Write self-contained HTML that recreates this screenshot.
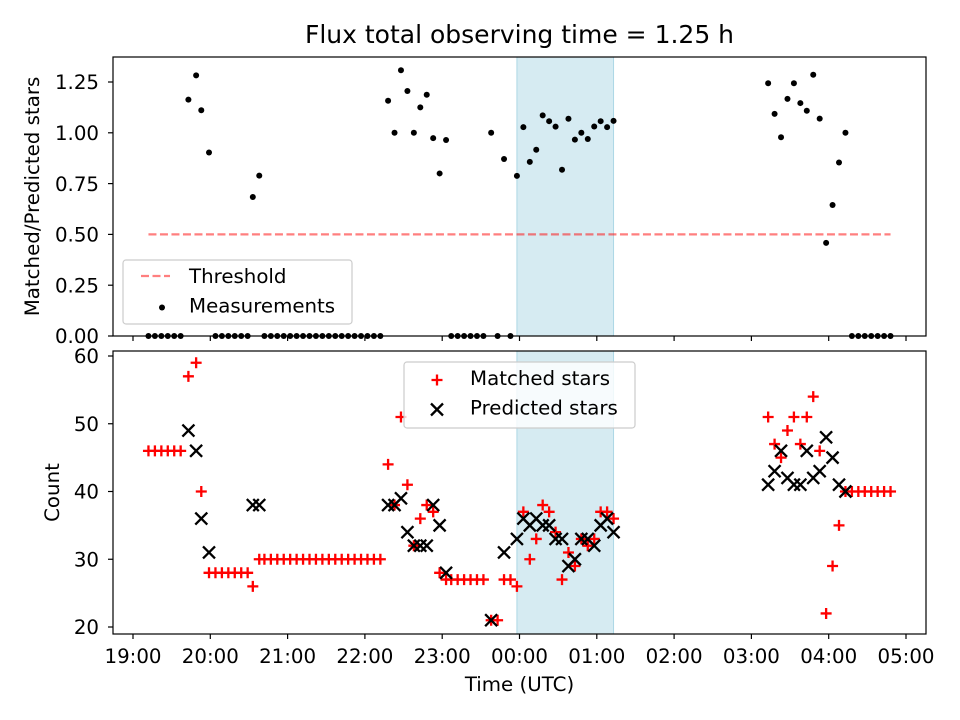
<!DOCTYPE html>
<html><head><meta charset="utf-8">
<style>
html,body{margin:0;padding:0;background:#fff;}
svg{display:block;font-family:"DejaVu Sans","Liberation Sans",sans-serif;}
</style></head>
<body>
<svg id="chart" width="960" height="720" viewBox="0 0 960 720" xmlns="http://www.w3.org/2000/svg">
<rect width="960" height="720" fill="#fff"/>
<text x="519.5" y="43" font-size="25" text-anchor="middle">Flux total observing time = 1.25 h</text>
<g id="topPanel"></g>
<g id="botPanel"></g>
</svg>
<script>
// minutes after 19:00 UTC
const times = [12,17,22,27,32,37,43,49,53,59,64,69,74,79,84,89,93,98,
102,107,112,117,122,127,132,137,142,147,152,157,162,167,172,177,182,187,192,
198,203,208,213,218,223,228,233,238,243,247,252,257,262,267,272,
278,283,288,293,298,303,308,313,318,323,328,333,338,343,348,353,358,363,368,373,
493,498,503,508,513,518,523,528,533,538,543,548,553,558,563,568,573,578,583,588];
const matched = [46,46,46,46,46,46,57,59,40,28,28,28,28,28,28,28,26,30,
30,30,30,30,30,30,30,30,30,30,30,30,30,30,30,30,30,30,30,
44,38,51,41,32,36,38,37,28,27,27,27,27,27,27,27,
21,21,27,27,26,37,30,33,38,37,34,27,31,29,33,32,33,37,37,36,
51,47,45,49,51,47,51,54,46,22,29,35,40,40,40,40,40,40,40,40];
const predicted = [null,null,null,null,null,null,49,46,36,31,null,null,null,null,null,null,38,38,
null,null,null,null,null,null,null,null,null,null,null,null,null,null,null,null,null,null,null,
38,38,39,34,32,32,32,38,35,28,null,null,null,null,null,null,
21,null,31,null,33,36,35,36,35,35,33,33,29,30,33,33,32,35,36,34,
41,43,46,42,41,41,46,42,43,48,45,41,40,null,null,null,null,null,null,null];
const xTickLabels = ["19:00","20:00","21:00","22:00","23:00","00:00","01:00","02:00","03:00","04:00","05:00"];
const topTicks = [0,0.25,0.5,0.75,1.0,1.25];
const botTicks = [20,30,40,50,60];
const threshold = [0.5];
const span = [298,373];

const NS="http://www.w3.org/2000/svg";
const L=113,R=926;
const T1=57,B1=336,T2=351,B2=634;
const FS=19.8;
const xs=m=>133+m*(773/600);
const y1=v=>336-v*203.2;
const y2=v=>627-(v-20)*6.775;
function mk(tag,at,parent){const e=document.createElementNS(NS,tag);for(const k in at)e.setAttribute(k,at[k]);parent.appendChild(e);return e;}
const topG=document.getElementById('topPanel'),botG=document.getElementById('botPanel');

function panel(g,T,B,ticks,yf,fmt,labels,ytitle,ynm){
  const sp=mk('rect',{x:xs(span[0]),y:T,width:xs(span[1])-xs(span[0]),height:B-T,fill:'#add8e6','fill-opacity':0.5,stroke:'#add8e6','stroke-width':1},g);
  
  
  xTickLabels.forEach((lab,i)=>{
    const x=xs(i*60);
    const t=mk('line',{x1:x,x2:x,y1:B,y2:B+5,stroke:'#000','stroke-width':1.2},g);
    
    
    if(labels){const tx=mk('text',{x:x,y:B+29,'font-size':FS,'text-anchor':'middle'},g);tx.textContent=lab;
      
      }
  });
  ticks.forEach(v=>{
    const y=yf(v);
    const t=mk('line',{x1:L-5,x2:L,y1:y,y2:y,stroke:'#000','stroke-width':1.2},g);
    
    
    const tx=mk('text',{x:L-14,y:y+7.2,'font-size':FS,'text-anchor':'end'},g);tx.textContent=fmt(v);
    
    
  });
  const yt=mk('text',{x:0,y:0,'font-size':FS,'text-anchor':'middle',transform:`translate(${ynm},${(T+B)/2}) rotate(-90)`},g);
  yt.textContent=ytitle;
  
  
}
panel(topG,T1,B1,topTicks,y1,v=>v.toFixed(2),false,'Matched/Predicted stars',39);
panel(botG,T2,B2,botTicks,y2,v=>String(v),true,'Count',59);

const th=mk('line',{x1:xs(times[0]),x2:xs(times[times.length-1]),y1:y1(threshold[0]),y2:y1(threshold[0]),stroke:'#ff0000','stroke-opacity':0.5,'stroke-width':2.2,'stroke-dasharray':'8,3.5'},topG);



times.forEach((t,i)=>{
  const p=predicted[i];
  const r=p?matched[i]/p:0;
  const c=mk('circle',{cx:xs(t),cy:y1(r),r:3,fill:'#000'},topG);
  
  
});

times.forEach((t,i)=>{
  const x=xs(t),y=y2(matched[i]),s=5.5;
  const pl=mk('path',{d:`M${x-s},${y}H${x+s}M${x},${y-s}V${y+s}`,stroke:'#ff0000','stroke-width':2.3,fill:'none'},botG);
  
  
});
times.forEach((t,i)=>{
  if(predicted[i]==null)return;
  const x=xs(t),y=y2(predicted[i]),s=6;
  const cr=mk('path',{d:`M${x-s},${y-s}L${x+s},${y+s}M${x-s},${y+s}L${x+s},${y-s}`,stroke:'#000','stroke-width':2.3,fill:'none'},botG);
  
  
});

[[topG,T1,B1],[botG,T2,B2]].forEach(([g,T,B])=>{
  const f=mk('rect',{x:L,y:T,width:R-L,height:B-T,fill:'none',stroke:'#000','stroke-width':1.2},g);
  
  
});

function legend(g,x,y,w,h,items,nm){
  const lg=mk('g',{},g);
  
  
  mk('rect',{x:x,y:y,width:w,height:h,rx:3,fill:'#fff','fill-opacity':0.8,stroke:'#ccc','stroke-width':1.2},lg);
  items.forEach((it,i)=>{
    const cy=y+16+i*29.5;
    it.draw(lg,x+28,cy);
    const tx=mk('text',{x:x+66,y:cy+7,'font-size':FS},lg);tx.textContent=it.label;
    
    
  });
}
legend(topG,123,260,229,64,[
 {label:'Threshold',draw:(g,x,y)=>mk('line',{x1:x-10,x2:x+19,y1:y,y2:y,stroke:'#ff0000','stroke-opacity':0.5,'stroke-width':2.2,'stroke-dasharray':'8,3.5'},g)},
 {label:'Measurements',draw:(g,x,y)=>mk('circle',{cx:x+11,cy:y+2,r:3,fill:'#000'},g)}
],'ratio-legend');
legend(botG,404,362,231,66,[
 {label:'Matched stars',draw:(g,x,y)=>mk('path',{d:`M${x-0.5},${y+2}H${x+10.5}M${x+5},${y-3.5}V${y+7.5}`,stroke:'#ff0000','stroke-width':2.3},g)},
 {label:'Predicted stars',draw:(g,x,y)=>mk('path',{d:`M${x-1},${y-4}L${x+11},${y+8}M${x-1},${y+8}L${x+11},${y-4}`,stroke:'#000','stroke-width':2.3},g)}
],'count-legend');

const xt=mk('text',{x:519.5,y:691,'font-size':FS,'text-anchor':'middle'},botG);
xt.textContent='Time (UTC)';


</script>
</body></html>
